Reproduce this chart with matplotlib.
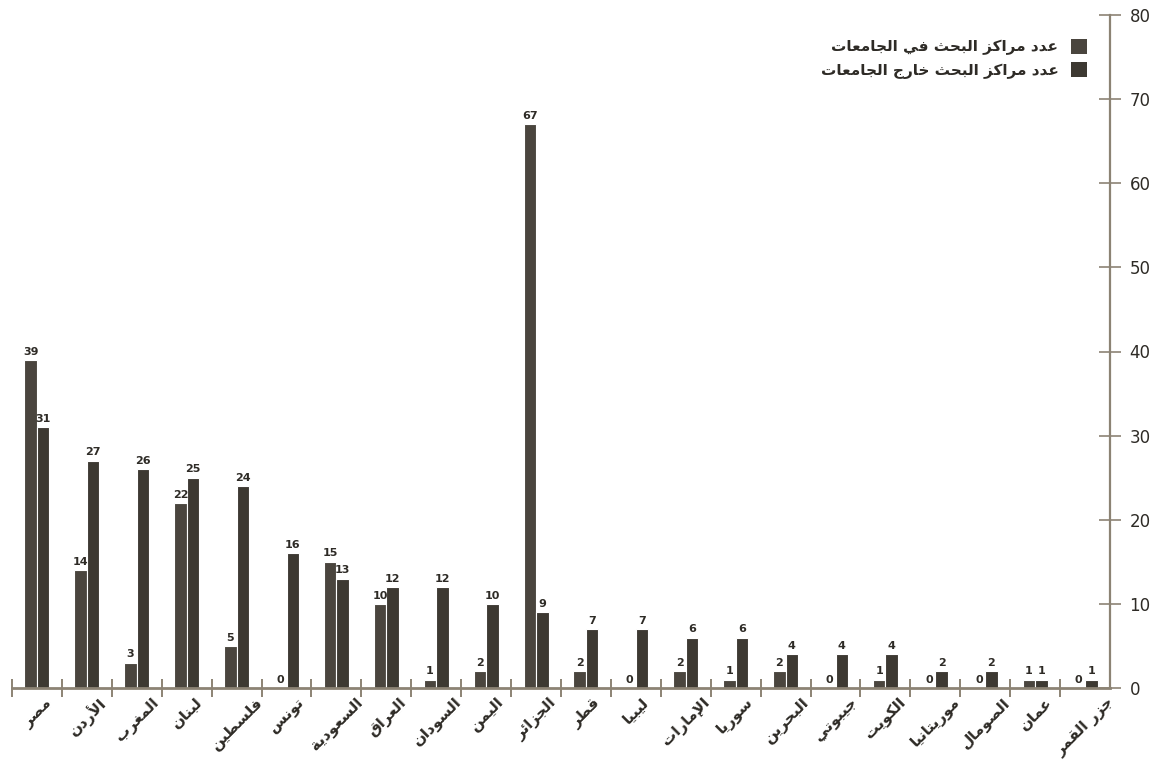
import matplotlib
matplotlib.use('Agg')
import matplotlib.pyplot as plt
from matplotlib.patches import Patch
import numpy as np

# countries, left to right
countries = ['مصر', 'الأردن', 'المغرب', 'لبنان', 'فلسطين', 'تونس', 'السعودية',
             'العراق', 'السودان', 'اليمن', 'الجزائر', 'قطر', 'ليبيا', 'الإمارات',
             'سوريا', 'البحرين', 'جيبوتي', 'الكويت', 'موريتانيا', 'الصومال',
             'عمان', 'جزر القمر']
in_univ = [39, 14, 3, 22, 5, 0, 15, 10, 1, 2, 67, 2, 0, 2, 1, 2, 0, 1, 0, 0, 1, 0]
out_univ = [31, 27, 26, 25, 24, 16, 13, 12, 12, 10, 9, 7, 7, 6, 6, 4, 4, 4, 2, 2, 1, 1]
series_names = ['عدد مراكز البحث في الجامعات', 'عدد مراكز البحث خارج الجامعات']
y_ticks = [0, 10, 20, 30, 40, 50, 60, 70, 80]

COL1 = '#4a453e'
COL2 = '#3d3932'
AXCOL = '#8c8374'
TXT = '#2e2b26'

# matplotlib has no arabic shaping, so map letters to presentation forms
# (isolated, final, initial, medial are consecutive code points)
FORMS = {
    'ء': (0xFE80, 1), 'آ': (0xFE81, 2), 'أ': (0xFE83, 2), 'ؤ': (0xFE85, 2),
    'إ': (0xFE87, 2), 'ئ': (0xFE89, 4), 'ا': (0xFE8D, 2), 'ب': (0xFE8F, 4),
    'ة': (0xFE93, 2), 'ت': (0xFE95, 4), 'ث': (0xFE99, 4), 'ج': (0xFE9D, 4),
    'ح': (0xFEA1, 4), 'خ': (0xFEA5, 4), 'د': (0xFEA9, 2), 'ذ': (0xFEAB, 2),
    'ر': (0xFEAD, 2), 'ز': (0xFEAF, 2), 'س': (0xFEB1, 4), 'ش': (0xFEB5, 4),
    'ص': (0xFEB9, 4), 'ض': (0xFEBD, 4), 'ط': (0xFEC1, 4), 'ظ': (0xFEC5, 4),
    'ع': (0xFEC9, 4), 'غ': (0xFECD, 4), 'ف': (0xFED1, 4), 'ق': (0xFED5, 4),
    'ك': (0xFED9, 4), 'ل': (0xFEDD, 4), 'م': (0xFEE1, 4), 'ن': (0xFEE5, 4),
    'ه': (0xFEE9, 4), 'و': (0xFEED, 2), 'ى': (0xFEEF, 2), 'ي': (0xFEF1, 4),
}
LAM_ALEF = {'ا': 0xFEFB, 'أ': 0xFEF7, 'إ': 0xFEF9, 'آ': 0xFEF5}


def shape(text):
    out = []
    i = 0
    prev_joins = False
    while i < len(text):
        c = text[i]
        if c not in FORMS:
            out.append(c)
            prev_joins = False
            i += 1
            continue
        nxt = text[i + 1] if i + 1 < len(text) else ''
        if c == 'ل' and nxt in LAM_ALEF:
            out.append(chr(LAM_ALEF[nxt] + (1 if prev_joins else 0)))
            prev_joins = False
            i += 2
            continue
        base, n = FORMS[c]
        joins_next = n == 4 and nxt in FORMS and FORMS[nxt][1] > 1
        if n == 1:
            form = 0
        elif prev_joins and joins_next:
            form = 3
        elif prev_joins:
            form = 1
        elif joins_next:
            form = 2
        else:
            form = 0
        out.append(chr(base + form))
        prev_joins = n == 4
        i += 1
    return ''.join(reversed(out))


plt.rcParams['font.family'] = ['DejaVu Sans']

fig = plt.figure(figsize=(11.66, 7.62), dpi=100)
ax = fig.add_axes([12 / 1166, 74 / 762, 1098 / 1166, 673 / 762])

x = np.arange(len(countries))
w = 0.25
ax.bar(x - w / 2, in_univ, w, color=COL1, edgecolor='white', linewidth=0.8)
ax.bar(x + w / 2, out_univ, w, color=COL2, edgecolor='white', linewidth=0.8)

lbl = dict(fontsize=8, fontweight='bold', color=TXT, ha='center', va='bottom')
for xi, v in zip(x, in_univ):
    ax.text(xi - w / 2, v + 0.4, str(v), **lbl)
for xi, v in zip(x, out_univ):
    ax.text(xi + w / 2, v + 0.4, str(v), **lbl)

ax.set_xlim(-0.5, len(countries) - 0.5)
ax.set_ylim(0, 80)

for s in ['top', 'left']:
    ax.spines[s].set_visible(False)
ax.spines['bottom'].set_color(AXCOL)
ax.spines['bottom'].set_linewidth(2)
ax.spines['right'].set_color(AXCOL)
ax.spines['right'].set_linewidth(1.6)

# group separators on the x axis, names at group centres
ax.set_xticks(np.arange(len(countries)) - 0.5)
ax.set_xticklabels([])
ax.tick_params(axis='x', which='major', direction='inout', length=13, width=1.4, color=AXCOL)
ax.set_xticks(x, minor=True)
ax.set_xticklabels([shape(c) for c in countries], minor=True, rotation=45,
                   ha='center', va='top', fontsize=11, fontweight='bold', color=TXT)
ax.tick_params(axis='x', which='minor', length=0, pad=5)

ax.yaxis.tick_right()
ax.set_yticks(y_ticks)
ax.tick_params(axis='y', direction='inout', length=16, width=1.2, color=AXCOL,
               labelsize=12, labelcolor=TXT, pad=6)

handles = [Patch(facecolor=COL1, edgecolor='none'), Patch(facecolor=COL2, edgecolor='none')]
ax.legend(handles, [shape(s) for s in series_names], loc='upper right',
          bbox_to_anchor=(0.992, 0.985), frameon=False, markerfirst=False,
          handlelength=1.1, handleheight=1.1, handletextpad=0.8, labelspacing=0.45,
          prop=dict(size=11, weight='bold'), labelcolor=TXT)

fig.savefig('out.png', dpi=100, facecolor='white')
